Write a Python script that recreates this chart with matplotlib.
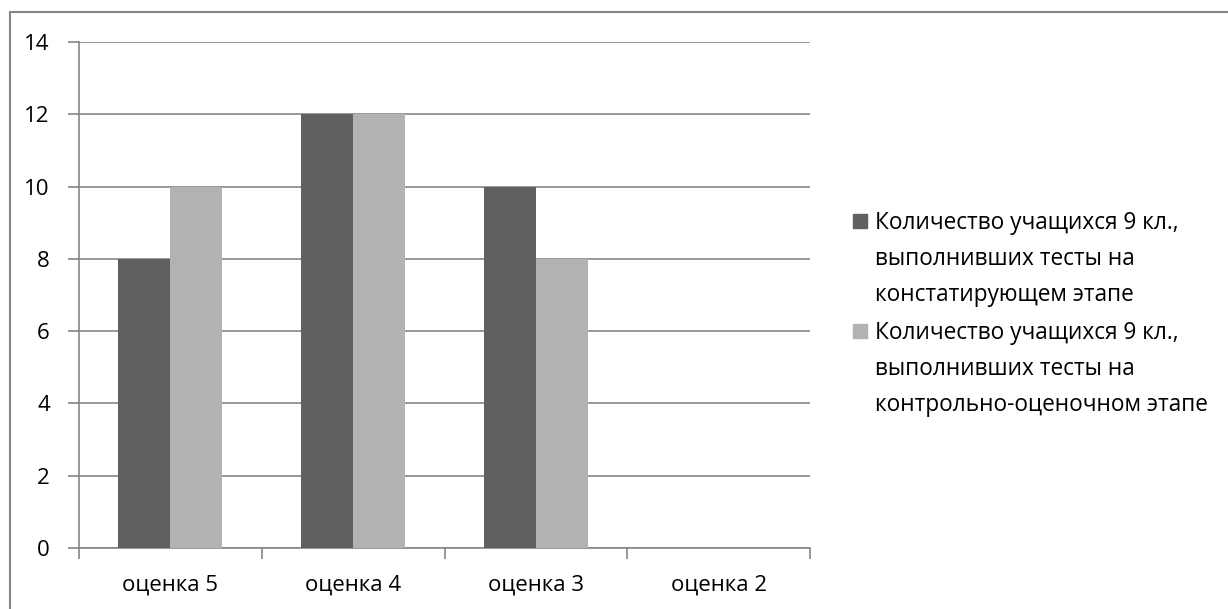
import matplotlib
matplotlib.use("Agg")
import matplotlib.pyplot as plt
from matplotlib.lines import Line2D
from matplotlib.patches import Rectangle
import numpy as np

categories = ["оценка 5", "оценка 4", "оценка 3", "оценка 2"]
series1 = [8, 12, 10, 0]
series2 = [10, 12, 8, 0]
labels = [["Количество учащихся 9 кл.,", "выполнивших тесты на", "констатирующем этапе"],
          ["Количество учащихся 9 кл.,", "выполнивших тесты на", "контрольно-оценочном этапе"]]
yticks = [0, 2, 4, 6, 8, 10, 12, 14]

plt.rcParams['font.family'] = ['Open Sans', 'DejaVu Sans']

W, H = 1228, 609
fig = plt.figure(figsize=(W/100, H/100), dpi=100)
ax = fig.add_axes([79/W, 1-548/H, (810-79)/W, (548-42)/H])

x = np.arange(len(categories))
bw = 0.285
c1, c2 = "#606060", "#b2b2b2"
ax.bar(x - bw/2, series1, width=bw, color=c1, zorder=3)
ax.bar(x + bw/2, series2, width=bw, color=c2, zorder=3)

ax.set_xlim(-0.5, len(categories) - 0.5)
ax.set_ylim(0, 14)
ax.set_yticks(yticks)
ax.set_yticklabels([str(v) for v in yticks], fontsize=16)
ax.yaxis.grid(True, color="#868686", linewidth=1.2, zorder=0)
ax.set_axisbelow(True)

ax.set_xticks(x)
ax.set_xticklabels(categories, fontsize=16)
ax.xaxis.set_minor_locator(matplotlib.ticker.FixedLocator(np.arange(-0.5, len(categories))))
ax.tick_params(axis='x', which='major', length=0, pad=19)
ax.tick_params(axis='x', which='minor', length=8, color="#868686", width=1.2)
ax.tick_params(axis='y', length=8, color="#868686", width=1.2, pad=13)

for s in ["top", "right"]:
    ax.spines[s].set_visible(False)
for s in ["left", "bottom"]:
    ax.spines[s].set_color("#868686")
    ax.spines[s].set_linewidth(1.2)

# legend (manual, Excel-style: marker aligned with first line)
colors = [c1, c2]
first_baselines = [229, 339]
for lab, col, yb in zip(labels, colors, first_baselines):
    sq = 14
    fig.add_artist(Rectangle((853/W, 1-(yb-8+sq/2)/H), sq/W, sq/H, color=col,
                             transform=fig.transFigure))
    for i, line in enumerate(lab):
        fig.text(875/W, 1-(yb + 36*i)/H, line, fontsize=16.3, va='baseline', ha='left')

# outer chart border
fig.add_artist(Line2D([10/W, 1], [1-11.5/H, 1-11.5/H], color="#868686", linewidth=1.5, transform=fig.transFigure))
fig.add_artist(Line2D([10/W, 10/W], [0, 1-11.5/H], color="#868686", linewidth=1.5, transform=fig.transFigure))

fig.savefig("out.png", dpi=100)
